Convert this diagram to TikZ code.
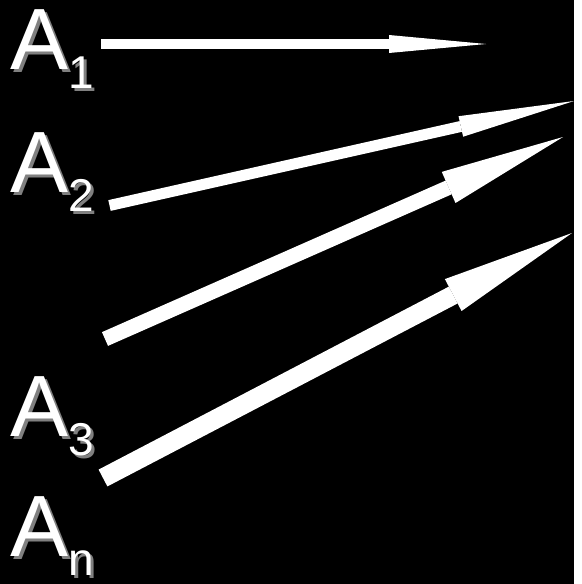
\documentclass[tikz,border=0pt]{standalone}
\usepackage{fontspec}
\setmainfont{Liberation Sans}
\usetikzlibrary{arrows.meta}
\tikzset{
  lbl/.style={anchor=base west, inner sep=0pt, text=white, font=\fontsize{87}{87}\selectfont},
  lblshadow/.style={lbl, text=gray},
  arr/.style={white, line width=#1},
}
\newcommand{\Asub}[1]{A\raisebox{-19pt}{\fontsize{46}{46}\selectfont #1}}

\begin{document}
\begin{tikzpicture}[x=1pt, y=-1pt]
                % 背景
                \fill[black] (0,0) rectangle (574,584);

                % 影付きのラベル A_1, A_2, A_3, A_n
                \node[lblshadow] at (13,72) {\Asub{1}};
                \node[lbl] (a1) at (10,69) {\Asub{1}};
                \node[lblshadow] at (13,195) {\Asub{2}};
                \node[lbl] (a2) at (10,192) {\Asub{2}};
                \node[lblshadow] at (13,439) {\Asub{3}};
                \node[lbl] (a3) at (10,436) {\Asub{3}};
                \node[lblshadow] at (13,559) {\Asub{n}};
                \node[lbl] (an) at (10,556) {\Asub{n}};

                % 矢印の始点と終点
                \coordinate (s1) at (101,44);
                \coordinate (t1) at (486,44);
                \coordinate (s2) at (109.5,205.5);
                \coordinate (t2) at (574,101);
                \coordinate (s3) at (105,339);
                \coordinate (t3) at (563,137);
                \coordinate (s4) at (103,478);
                \coordinate (t4) at (572,233);

                % 矢印 (だんだん太く)
                \draw[arr=10pt, -{Triangle[length=97pt, width=18pt, line width=0pt]}] (s1) -- (t1);
                \draw[arr=11pt, -{Triangle[length=116pt, width=21pt, line width=0pt]}] (s2) -- (t2);
                \draw[arr=15pt, -{Triangle[length=125pt, width=34pt, line width=0pt]}] (s3) -- (t3);
                \draw[arr=19pt, -{Triangle[length=134pt, width=36pt, line width=0pt]}] (s4) -- (t4);

            \end{tikzpicture}
\end{document}
